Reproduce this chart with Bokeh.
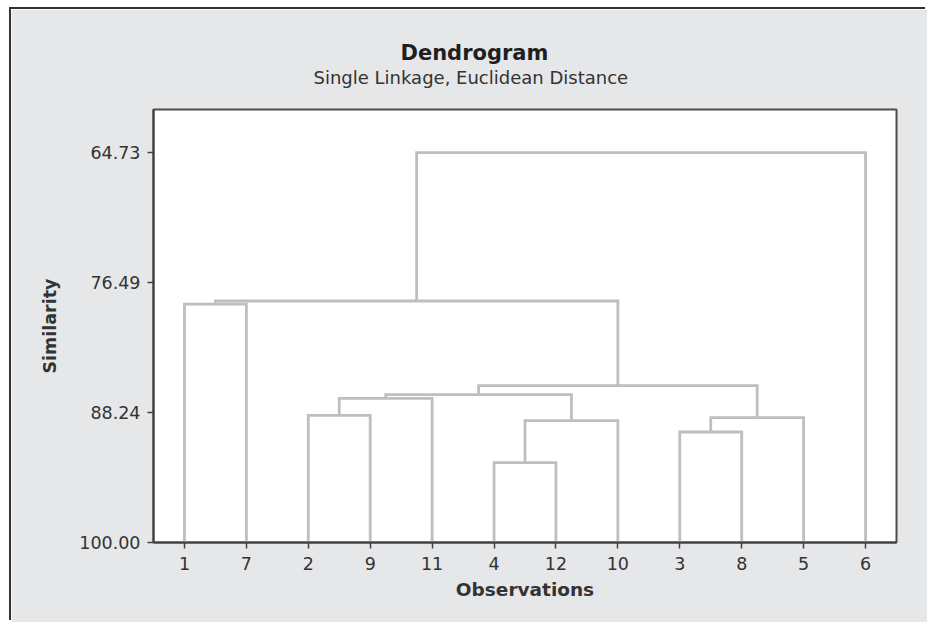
from bokeh.plotting import figure
from bokeh.models import Range1d, FixedTicker, PrintfTickFormatter, Title
from bokeh.embed import file_html
from bokeh.resources import INLINE

# ---- data ----
leaf_order = ["1", "7", "2", "9", "11", "4", "12", "10", "3", "8", "5", "6"]
merge_left = ["4", "3", "C1", "C2", "2", "C5", "C6", "C7", "1", "C9", "C10"]
merge_right = ["12", "8", "10", "5", "9", "11", "C3", "C4", "7", "C8", "6"]
merge_sim = [92.77, 90.00, 88.98, 88.70, 88.50, 86.95, 86.62, 85.81, 78.43, 78.15, 64.73]
y_ticks = [64.73, 76.49, 88.24, 100.00]
leaf_sim = 100.0

# ---- build dendrogram paths ----
pos = {lab: i + 1 for i, lab in enumerate(leaf_order)}
hgt = {lab: leaf_sim for lab in leaf_order}
xs, ys = [], []
for k, (a, b, s) in enumerate(zip(merge_left, merge_right, merge_sim)):
    xa, xb = pos[a], pos[b]
    xs.append([xa, xa, xb, xb])
    ys.append([hgt[a], s, s, hgt[b]])
    cid = f"C{k + 1}"
    pos[cid] = (xa + xb) / 2
    hgt[cid] = s

FONT = "DejaVu Sans"

p = figure(width=916, height=613,
           x_range=Range1d(0.5, 12.5), y_range=Range1d(100, 60.82),
           output_backend="svg", toolbar_location=None,
           min_border_left=142, min_border_right=31,
           min_border_top=100, min_border_bottom=80)
p.styles = {"margin-left": "11px", "margin-top": "9px",
            "box-shadow": "-2px -2px 0px 0px #333333"}
p.background_fill_color = "white"
p.border_fill_color = "#E6E7E9"
p.outline_line_color = "#4D4D4D"
p.outline_line_width = 2
p.grid.visible = False

p.multi_line(xs, ys, line_color="#BDBEC2", line_width=2.8, line_join="miter")

# axes
for ax in (p.xaxis[0], p.yaxis[0]):
    ax.axis_line_color = "#404040"
    ax.axis_line_width = 2
    ax.major_tick_line_color = "#404040"
    ax.major_tick_line_width = 1.5
    ax.major_tick_out = 6
    ax.major_tick_in = 0
    ax.minor_tick_line_color = None
    ax.major_label_text_font = FONT
    ax.major_label_text_font_size = "17.5px"
    ax.major_label_text_color = "#333333"
    ax.axis_label_text_font = FONT
    ax.axis_label_text_font_style = "bold"
    ax.axis_label_text_color = "#333333"

p.xaxis.ticker = FixedTicker(ticks=[pos[l] for l in leaf_order])
p.xaxis.major_label_overrides = {pos[l]: l for l in leaf_order}
p.xaxis.major_label_standoff = 8
p.xaxis.axis_label = "Observations"
p.xaxis.axis_label_text_font_size = "18.5px"
p.xaxis.axis_label_standoff = 6

p.yaxis.ticker = FixedTicker(ticks=y_ticks)
p.yaxis.formatter = PrintfTickFormatter(format="%.2f")
p.yaxis.major_label_standoff = 7
p.yaxis.axis_label = "Similarity"
p.yaxis.axis_label_text_font_size = "17.5px"
p.yaxis.axis_label_standoff = 16

# titles (stacked outward from the frame: spacer, subtitle, title)
p.title.visible = False
p.add_layout(Title(text=" ", text_font_size="1px", standoff=19), "above")
p.add_layout(Title(text="Single Linkage, Euclidean Distance", align="left", offset=160,
                   text_font=FONT, text_font_size="18px", text_font_style="normal",
                   text_color="#333333", standoff=0), "above")
p.add_layout(Title(text="Dendrogram", align="left", offset=247,
                   text_font=FONT, text_font_size="21px", text_font_style="bold",
                   text_color="#1F1F1F", standoff=0), "above")

open("out.html", "w").write(file_html(p, INLINE))
